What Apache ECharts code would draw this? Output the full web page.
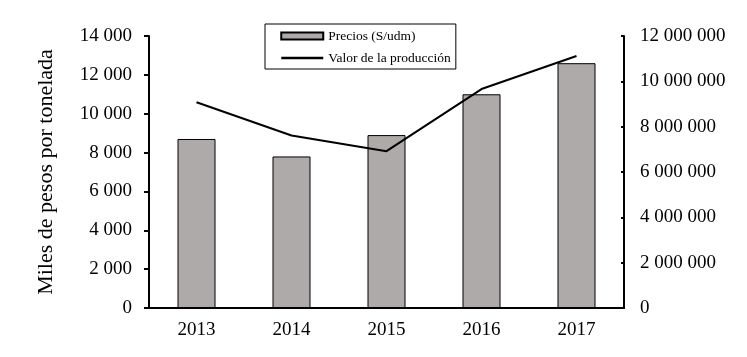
<!DOCTYPE html>
<html><head><meta charset="utf-8">
<script src="https://cdn.jsdelivr.net/npm/echarts@6/dist/echarts.min.js"></script>
<style>html,body{margin:0;padding:0;background:#fff}#c{width:747px;height:357px}</style>
</head><body><div id="c"></div>
<script>
const categories = ['2013','2014','2015','2016','2017'];
const precios = [8700, 7800, 8900, 11000, 12600];
const valorProduccion = [9080000, 7610000, 6920000, 9660000, 11120000];
const leftTicks = ['0','2 000','4 000','6 000','8 000','10 000','12 000','14 000'];

const F = 'Liberation Serif';
const fmt = v => String(Math.round(v)).replace(/\B(?=(\d{3})+(?!\d))/g, ' ');
const chart = echarts.init(document.getElementById('c'));
chart.setOption({
  animation: false,
  backgroundColor: '#fff',
  textStyle: { fontFamily: F, color: '#000' },
  grid: { left: 149, right: 123, top: 36, bottom: 49 },
  legend: {
    orient: 'vertical', left: 265, top: 24,
    borderColor: '#000', borderWidth: 1,
    padding: [5, 5, 4, 15],
    itemWidth: 42, itemHeight: 7, itemGap: 8,
    textStyle: { fontFamily: F, fontSize: 13.5, color: '#000' },
    data: [
      { name: 'Precios (S/udm)', icon: 'rect' },
      { name: 'Valor de la producción', itemStyle: { opacity: 0 }, lineStyle: { width: 2.5, color: '#000' } }
    ]
  },
  xAxis: {
    type: 'category', data: categories,
    axisLine: { lineStyle: { color: '#000', width: 2 } },
    axisTick: { length: 5, lineStyle: { color: '#000', width: 2 } },
    axisLabel: { fontFamily: F, fontSize: 19, color: '#000', margin: 13 }
  },
  yAxis: [
    {
      type: 'value', min: 0, max: 14000, interval: 2000,
      name: 'Miles de pesos por tonelada', nameLocation: 'middle', nameGap: 92,
      nameTextStyle: { fontFamily: F, fontSize: 22, color: '#000' },
      axisLine: { show: true, lineStyle: { color: '#000', width: 2 } },
      axisTick: { show: true, length: 5, lineStyle: { color: '#000', width: 2 } },
      splitLine: { show: false },
      axisLabel: { fontFamily: F, fontSize: 19, color: '#000', margin: 17,
        formatter: v => leftTicks[Math.round(v / 2000)] }
    },
    {
      type: 'value', min: 0, max: 12000000, interval: 2000000, position: 'right',
      axisLine: { show: true, lineStyle: { color: '#000', width: 2 } },
      axisTick: { show: true, inside: true, length: 3, lineStyle: { color: '#000', width: 2 } },
      splitLine: { show: false },
      axisLabel: { fontFamily: F, fontSize: 19, color: '#000', margin: 16, formatter: fmt }
    }
  ],
  series: [
    {
      name: 'Precios (S/udm)', type: 'bar', data: precios, barWidth: 38,
      itemStyle: { color: '#AEAAA9', borderColor: '#000', borderWidth: 1 }
    },
    {
      name: 'Valor de la producción', type: 'line', yAxisIndex: 1, data: valorProduccion,
      symbol: 'none', lineStyle: { color: '#000', width: 2 }, itemStyle: { color: '#000' }
    }
  ]
});
</script></body></html>
